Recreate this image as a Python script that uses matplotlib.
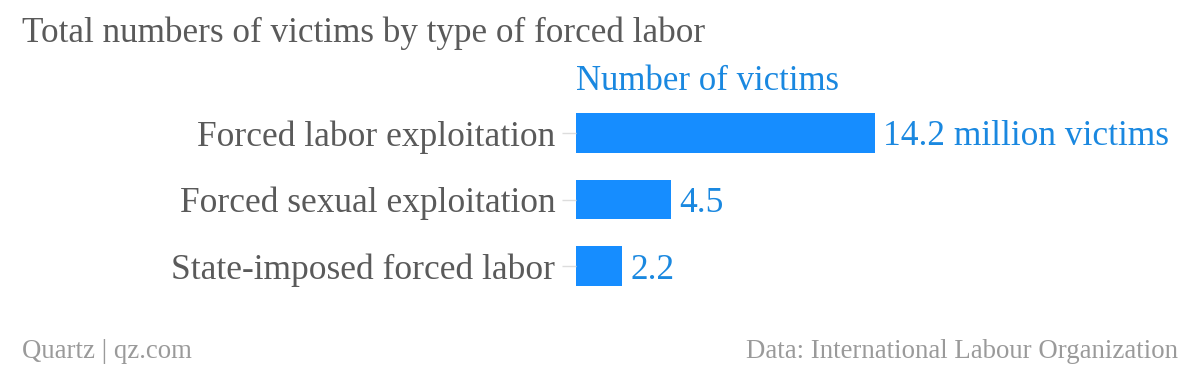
import matplotlib as mpl
mpl.use('Agg')
import matplotlib.pyplot as plt

# data
categories = ["Forced labor exploitation", "Forced sexual exploitation", "State-imposed forced labor"]
victims = [14.2, 4.5, 2.2]
value_labels = ["14.2 million victims", "4.5", "2.2"]

bar_color = "#168dff"
text_blue = "#1a88e0"
gray = "#5a5a5a"
light = "#9a9a9a"

plt.rcParams['font.family'] = ['Liberation Serif', 'DejaVu Serif']

fig = plt.figure(figsize=(12, 3.66), dpi=100)
ax = fig.add_axes([576/1200, 66/366, 600/1200, 200/366])

ypos = list(range(len(categories)))
ax.barh(ypos, victims, height=0.6, color=bar_color)
ax.set_xlim(0, 600/21.06)
ax.set_ylim(2.511, -0.496)

for y, v, lab in zip(ypos, victims, value_labels):
    ax.text(v + 0.4, y, lab, color=text_blue, fontsize=25.5, va='center_baseline', ha='left')

ax.set_yticks(ypos)
ax.set_yticklabels(categories, fontsize=25.5, color=gray)
ax.tick_params(axis='y', length=10, width=1, color='#dddddd', pad=5)
ax.set_xticks([])
for s in ax.spines.values():
    s.set_visible(False)

fig.text(576/1200, 1 - 82/366, "Number of victims", color=text_blue, fontsize=25, va='center', ha='left')
fig.text(22/1200, 1 - 33/366, "Total numbers of victims by type of forced labor", color=gray, fontsize=25.3, va='center', ha='left')
fig.text(22/1200, 1 - 351/366, "Quartz | qz.com", color=light, fontsize=19.3, va='center', ha='left')
fig.text(1178/1200, 1 - 351/366, "Data: International Labour Organization", color=light, fontsize=19.3, va='center', ha='right')

fig.savefig("out.png", dpi=100, facecolor='white')
